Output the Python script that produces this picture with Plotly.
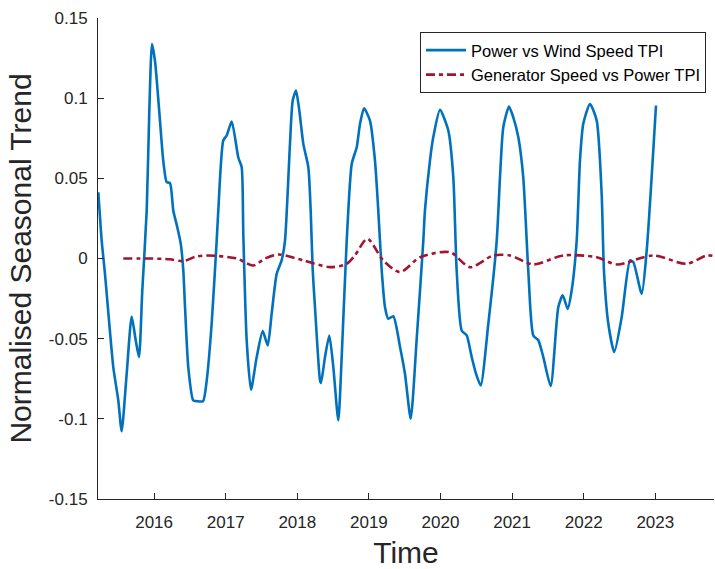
import plotly.graph_objects as go

# Power vs Wind Speed TPI (decimal year, normalised seasonal trend)
power_t = [2015.221, 2015.268, 2015.314, 2015.430, 2015.500, 2015.547, 2015.617, 2015.687, 2015.743, 2015.789,
           2015.835, 2015.897, 2015.933, 2015.971, 2016.013, 2016.082, 2016.128, 2016.176, 2016.222, 2016.268,
           2016.324, 2016.372, 2016.408, 2016.432, 2016.478, 2016.547, 2016.599, 2016.683, 2016.735, 2016.804,
           2016.874, 2016.897, 2016.966, 2017.014, 2017.084, 2017.176, 2017.223, 2017.246, 2017.293, 2017.353,
           2017.433, 2017.517, 2017.587, 2017.642, 2017.712, 2017.782, 2017.828, 2017.898, 2017.936, 2017.982,
           2018.028, 2018.084, 2018.154, 2018.187, 2018.215, 2018.247, 2018.317, 2018.331, 2018.387, 2018.447,
           2018.503, 2018.573, 2018.620, 2018.690, 2018.760, 2018.830, 2018.876, 2018.932, 2019.015, 2019.085,
           2019.131, 2019.179, 2019.225, 2019.271, 2019.341, 2019.434, 2019.504, 2019.584, 2019.668, 2019.760,
           2019.783, 2019.853, 2019.899, 2019.993, 2020.109, 2020.179, 2020.226, 2020.296, 2020.366, 2020.436,
           2020.496, 2020.561, 2020.668, 2020.785, 2020.831, 2020.877, 2020.957, 2021.017, 2021.087, 2021.156,
           2021.226, 2021.296, 2021.366, 2021.436, 2021.539, 2021.645, 2021.707, 2021.777, 2021.832, 2021.902,
           2021.948, 2021.994, 2022.088, 2022.182, 2022.251, 2022.283, 2022.344, 2022.427, 2022.531, 2022.647,
           2022.693, 2022.810, 2022.880, 2023.010]
power_v = [0.0413, 0.0112, -0.0096, -0.0677, -0.0885, -0.1077, -0.0719, -0.0362, -0.0510, -0.0615,
           -0.0200, 0.0300, 0.0920, 0.1338, 0.1230, 0.0860, 0.0610, 0.0476, 0.0470, 0.0300,
           0.0195, 0.0093, -0.0075, -0.0304, -0.0680, -0.0885, -0.0890, -0.0890, -0.0760, -0.0407,
           0.0110, 0.0300, 0.0736, 0.0767, 0.0854, 0.0630, 0.0570, 0.0150, -0.0510, -0.0819,
           -0.0615, -0.0453, -0.0542, -0.0345, -0.0096, -0.0010, 0.0110, 0.0717, 0.0985, 0.1047,
           0.0923, 0.0715, 0.0570, 0.0300, -0.0070, -0.0304, -0.0760, -0.0777, -0.0615, -0.0480,
           -0.0677, -0.1010, -0.0615, 0.0110, 0.0590, 0.0694, 0.0840, 0.0937, 0.0860, 0.0610,
           0.0300, -0.0075, -0.0304, -0.0376, -0.0360, -0.0550, -0.0720, -0.0999, -0.0500, 0.0110,
           0.0300, 0.0611, 0.0756, 0.0927, 0.0798, 0.0506, -0.0075, -0.0449, -0.0480, -0.0615,
           -0.0719, -0.0792, -0.0407, 0.0110, 0.0506, 0.0819, 0.0948, 0.0880, 0.0756, 0.0506,
           -0.0075, -0.0480, -0.0510, -0.0615, -0.0796, -0.0304, -0.0230, -0.0314, -0.0200, 0.0110,
           0.0611, 0.0840, 0.0964, 0.0860, 0.0403, -0.0075, -0.0407, -0.0584, -0.0365, -0.0012,
           -0.0022, -0.0220, 0.0050, 0.0954]

# Generator Speed vs Power TPI
gen_t = [2015.570, 2015.943, 2016.222, 2016.408, 2016.571, 2016.735, 2017.154, 2017.385, 2017.549, 2017.735,
         2018.084, 2018.457, 2018.690, 2018.806, 2018.978, 2019.201, 2019.434, 2019.714, 2020.133, 2020.412,
         2020.737, 2020.971, 2021.296, 2021.715, 2022.182, 2022.461, 2022.972, 2023.439, 2023.718, 2023.820]
gen_v = [0.0, 0.0, -0.0005, -0.0017, 0.0010, 0.0019, 0.0, -0.0044, 0.0, 0.0025,
         -0.0012, -0.0054, -0.0033, 0.0020, 0.0123, -0.0012, -0.0085, 0.0008, 0.0039, -0.0054,
         0.0019, 0.0019, -0.0037, 0.0019, 0.0008, -0.0037, 0.0019, -0.0033, 0.0019, 0.0015]

year_ticks = [2016, 2017, 2018, 2019, 2020, 2021, 2022, 2023]
year_labels = ["2016", "2017", "2018", "2019", "2020", "2021", "2022", "2023"]
y_ticks = [-0.15, -0.1, -0.05, 0, 0.05, 0.1, 0.15]
y_labels = ["-0.15", "-0.1", "-0.05", "0", "0.05", "0.1", "0.15"]

FONT = "Liberation Sans, Arial, Helvetica, sans-serif"
INK = "#262626"

fig = go.Figure()
fig.add_trace(go.Scatter(x=power_t, y=power_v, mode="lines", name="Power vs Wind Speed TPI",
                         line=dict(color="#0072BD", width=2.6, shape="spline", smoothing=0.6)))
fig.add_trace(go.Scatter(x=gen_t, y=gen_v, mode="lines", name="Generator Speed vs Power TPI",
                         line=dict(color="#A2142F", width=2.6, shape="spline", smoothing=0.8,
                                   dash="9px,4px,4px,4px")))

fig.update_layout(
    width=715, height=569,
    margin=dict(l=98, r=1, t=18, b=70),
    paper_bgcolor="white", plot_bgcolor="white",
    font=dict(family=FONT, size=17, color=INK),
    showlegend=True,
    legend=dict(x=0.987, y=0.971, xanchor="right", yanchor="top",
                bgcolor="white", bordercolor=INK, borderwidth=1,
                font=dict(family=FONT, size=16.5, color="black"),
                tracegroupgap=0, itemwidth=40),
)
fig.update_xaxes(range=[2015.2165, 2023.82], tickvals=year_ticks, ticktext=year_labels,
                 showgrid=False, zeroline=False, showline=True, linecolor=INK, linewidth=1,
                 ticks="inside", ticklen=6, tickcolor=INK, tickwidth=1, automargin=False,
                 tickfont=dict(family=FONT, size=17, color=INK), ticklabelstandoff=8,
                 title=dict(text="Time", font=dict(family=FONT, size=30, color=INK), standoff=11))
fig.update_yaxes(range=[-0.15, 0.15], tickvals=y_ticks, ticktext=y_labels,
                 showgrid=False, zeroline=False, showline=True, linecolor=INK, linewidth=1,
                 ticks="inside", ticklen=6, tickcolor=INK, tickwidth=1, automargin=False,
                 tickfont=dict(family=FONT, size=17, color=INK), ticklabelstandoff=6,
                 title=dict(text="Normalised Seasonal Trend", font=dict(family=FONT, size=30, color=INK),
                            standoff=8))

fig.write_html("out.html", config={"displayModeBar": False},
               post_script="document.body.style.margin='0';")
